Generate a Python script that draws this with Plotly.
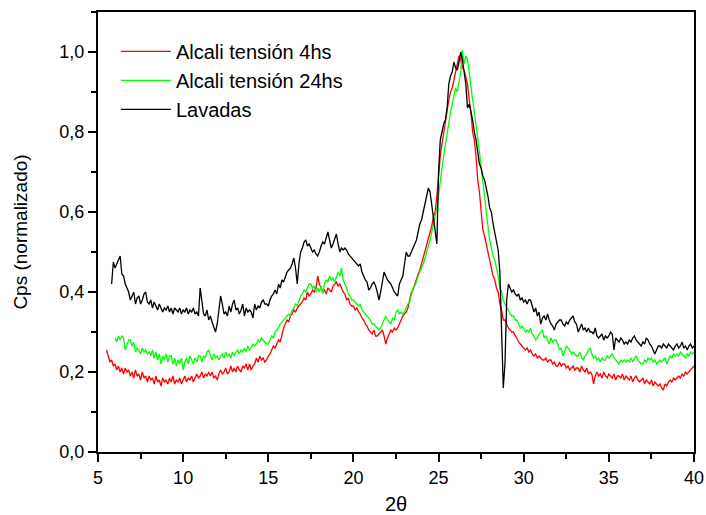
import numpy as np
import plotly.graph_objects as go

# 2-theta grid (0.1 deg steps), one start per series
RED_START, GREEN_START, BLACK_START = 5.5, 6.0, 5.8

red_4hs = [
  0.255, 0.24, 0.225, 0.23, 0.215,
  0.22, 0.205, 0.215, 0.2, 0.21, 0.195, 0.21, 0.2, 0.205, 0.19,
  0.2, 0.185, 0.205, 0.19, 0.195, 0.18, 0.2, 0.185, 0.19, 0.175,
  0.19, 0.18, 0.185, 0.17, 0.19, 0.175, 0.18, 0.165, 0.185, 0.175,
  0.18, 0.17, 0.185, 0.175, 0.19, 0.17, 0.18, 0.175, 0.185, 0.17,
  0.18, 0.19, 0.175, 0.185, 0.18, 0.19, 0.175, 0.185, 0.195, 0.185,
  0.19, 0.2, 0.185, 0.195, 0.19, 0.2, 0.19, 0.2, 0.185, 0.19,
  0.18, 0.195, 0.205, 0.195, 0.2, 0.21, 0.195, 0.2, 0.215, 0.2,
  0.21, 0.2, 0.215, 0.205, 0.2, 0.215, 0.21, 0.22, 0.205, 0.22,
  0.205, 0.215, 0.22, 0.235, 0.225, 0.24, 0.23, 0.235, 0.225, 0.23,
  0.24, 0.245, 0.255, 0.265, 0.26, 0.27, 0.28, 0.275, 0.295, 0.31,
  0.32, 0.33, 0.325, 0.34, 0.345, 0.355, 0.35, 0.36, 0.365, 0.37,
  0.375, 0.385, 0.38, 0.4, 0.39, 0.395, 0.405, 0.4, 0.41, 0.44,
  0.42, 0.41, 0.4, 0.405, 0.395, 0.41, 0.405, 0.4, 0.415, 0.42,
  0.425, 0.415, 0.42, 0.41, 0.4, 0.395, 0.38, 0.385, 0.37, 0.365,
  0.365, 0.355, 0.36, 0.35, 0.345, 0.335, 0.33, 0.32, 0.315, 0.305,
  0.3, 0.295, 0.305, 0.29, 0.29, 0.295, 0.3, 0.305, 0.29, 0.27,
  0.285, 0.295, 0.305, 0.3, 0.31, 0.305, 0.31, 0.32, 0.33, 0.34,
  0.345, 0.35, 0.36, 0.38, 0.4, 0.405, 0.42, 0.43, 0.445, 0.455,
  0.47, 0.49, 0.5, 0.52, 0.535, 0.55, 0.565, 0.59, 0.6, 0.64,
  0.7, 0.74, 0.77, 0.8, 0.83, 0.86, 0.88, 0.9, 0.91, 0.93,
  0.95, 0.97, 0.99, 0.98, 0.96, 0.955, 0.94, 0.92, 0.88, 0.85,
  0.8, 0.78, 0.74, 0.68, 0.65, 0.6, 0.555, 0.54, 0.52, 0.5,
  0.48, 0.46, 0.44, 0.43, 0.41, 0.4, 0.37, 0.355, 0.33, 0.33,
  0.32, 0.31, 0.305, 0.3, 0.3, 0.29, 0.285, 0.275, 0.27, 0.265,
  0.26, 0.255, 0.26, 0.25, 0.255, 0.245, 0.24, 0.245, 0.235, 0.24,
  0.235, 0.23, 0.23, 0.235, 0.225, 0.23, 0.23, 0.22, 0.225, 0.215,
  0.215, 0.225, 0.215, 0.22, 0.22, 0.21, 0.215, 0.205, 0.21, 0.215,
  0.205, 0.21, 0.21, 0.2, 0.215, 0.205, 0.2, 0.21, 0.195, 0.2,
  0.195, 0.17, 0.19, 0.2, 0.19, 0.195, 0.185, 0.2, 0.19, 0.185,
  0.195, 0.19, 0.185, 0.195, 0.18, 0.19, 0.19, 0.185, 0.195, 0.18,
  0.19, 0.185, 0.18, 0.19, 0.175, 0.185, 0.19, 0.18, 0.175, 0.18,
  0.185, 0.17, 0.18, 0.175, 0.17, 0.18, 0.165, 0.175, 0.17, 0.165,
  0.17, 0.16, 0.155, 0.17, 0.165, 0.175, 0.18, 0.175, 0.185, 0.18,
  0.185, 0.19, 0.185, 0.195, 0.19, 0.2, 0.195, 0.2, 0.205, 0.21,
  0.215,
]

green_24hs = [
  0.285, 0.275, 0.29, 0.28, 0.29, 0.285, 0.255, 0.27, 0.28, 0.28,
  0.265, 0.275, 0.25, 0.26, 0.255, 0.245, 0.26, 0.25, 0.255, 0.245,
  0.25, 0.24, 0.255, 0.235, 0.25, 0.23, 0.245, 0.22, 0.24, 0.23,
  0.245, 0.225, 0.24, 0.24, 0.22, 0.235, 0.215, 0.23, 0.22, 0.235,
  0.205, 0.225, 0.235, 0.22, 0.24, 0.23, 0.22, 0.235, 0.225, 0.24,
  0.24, 0.225, 0.24, 0.235, 0.25, 0.255, 0.24, 0.23, 0.245, 0.235,
  0.24, 0.23, 0.24, 0.245, 0.235, 0.25, 0.24, 0.245, 0.235, 0.25,
  0.24, 0.25, 0.255, 0.245, 0.255, 0.25, 0.26, 0.25, 0.265, 0.255,
  0.26, 0.27, 0.265, 0.27, 0.28, 0.275, 0.285, 0.28, 0.275, 0.27,
  0.27, 0.28, 0.29, 0.285, 0.3, 0.305, 0.31, 0.32, 0.325, 0.33,
  0.335, 0.34, 0.345, 0.34, 0.355, 0.36, 0.37, 0.365, 0.38, 0.39,
  0.395, 0.405, 0.4, 0.41, 0.42, 0.42, 0.41, 0.415, 0.4, 0.41,
  0.4, 0.415, 0.395, 0.42, 0.43, 0.425, 0.44, 0.43, 0.435, 0.425,
  0.44, 0.45, 0.44, 0.46, 0.43, 0.42, 0.41, 0.395, 0.39, 0.38,
  0.38, 0.375, 0.37, 0.365, 0.37, 0.355, 0.35, 0.345, 0.34, 0.335,
  0.33, 0.32, 0.32, 0.315, 0.31, 0.305, 0.31, 0.32, 0.33, 0.34,
  0.33, 0.325, 0.32, 0.335, 0.33, 0.35, 0.355, 0.345, 0.35, 0.345,
  0.35, 0.36, 0.37, 0.375, 0.39, 0.41, 0.415, 0.425, 0.44, 0.45,
  0.46, 0.47, 0.485, 0.5, 0.51, 0.53, 0.55, 0.57, 0.59, 0.61,
  0.64, 0.68, 0.71, 0.74, 0.77, 0.8, 0.82, 0.85, 0.87, 0.89,
  0.91, 0.9, 0.93, 0.95, 1.005, 0.97, 0.99, 0.98, 0.95, 0.91,
  0.88, 0.85, 0.82, 0.78, 0.75, 0.71, 0.68, 0.64, 0.6, 0.56,
  0.53, 0.51, 0.49, 0.48, 0.46, 0.44, 0.41, 0.4, 0.38, 0.37,
  0.36, 0.355, 0.345, 0.34, 0.34, 0.33, 0.33, 0.32, 0.31, 0.315,
  0.31, 0.3, 0.305, 0.3, 0.31, 0.295, 0.29, 0.28, 0.285, 0.295,
  0.3, 0.305, 0.285, 0.29, 0.28, 0.27, 0.285, 0.275, 0.28, 0.28,
  0.27, 0.255, 0.26, 0.24, 0.25, 0.265, 0.26, 0.255, 0.245, 0.25,
  0.245, 0.24, 0.24, 0.25, 0.235, 0.23, 0.24, 0.245, 0.255, 0.26,
  0.245, 0.235, 0.24, 0.23, 0.235, 0.225, 0.235, 0.23, 0.23, 0.24,
  0.235, 0.24, 0.245, 0.235, 0.23, 0.225, 0.22, 0.23, 0.225, 0.23,
  0.225, 0.23, 0.225, 0.235, 0.225, 0.235, 0.24, 0.23, 0.225, 0.22,
  0.22, 0.23, 0.225, 0.235, 0.23, 0.235, 0.225, 0.23, 0.22, 0.225,
  0.23, 0.225, 0.23, 0.235, 0.22, 0.23, 0.24, 0.235, 0.245, 0.24,
  0.245, 0.24, 0.25, 0.245, 0.24, 0.235, 0.245, 0.24, 0.25, 0.245,
  0.25,
]

black_lavadas = [
  0.42, 0.475,
  0.46, 0.47, 0.48, 0.49, 0.445, 0.44, 0.42, 0.41, 0.4, 0.38,
  0.39, 0.4, 0.37, 0.385, 0.39, 0.37, 0.38, 0.395, 0.4, 0.375,
  0.37, 0.38, 0.36, 0.375, 0.365, 0.355, 0.37, 0.36, 0.35, 0.36,
  0.355, 0.365, 0.35, 0.36, 0.345, 0.36, 0.355, 0.35, 0.36, 0.345,
  0.355, 0.35, 0.36, 0.345, 0.355, 0.35, 0.36, 0.345, 0.35, 0.34,
  0.41, 0.37, 0.345, 0.34, 0.355, 0.33, 0.34, 0.325, 0.31, 0.3,
  0.32, 0.36, 0.39, 0.37, 0.345, 0.35, 0.34, 0.365, 0.35, 0.37,
  0.38, 0.355, 0.36, 0.345, 0.355, 0.37, 0.34, 0.36, 0.35, 0.355,
  0.35, 0.335, 0.37, 0.355, 0.365, 0.36, 0.375, 0.38, 0.37, 0.37,
  0.365, 0.38, 0.39, 0.395, 0.405, 0.395, 0.42, 0.41, 0.43, 0.425,
  0.44, 0.45, 0.455, 0.46, 0.47, 0.485, 0.46, 0.42, 0.47, 0.5,
  0.51, 0.525, 0.53, 0.515, 0.52, 0.51, 0.5, 0.505, 0.495, 0.49,
  0.5, 0.515, 0.525, 0.52, 0.535, 0.55, 0.53, 0.51, 0.52, 0.535,
  0.545, 0.52, 0.5, 0.51, 0.505, 0.51, 0.505, 0.495, 0.49, 0.485,
  0.48, 0.475, 0.47, 0.465, 0.47, 0.45, 0.44, 0.43, 0.425, 0.405,
  0.41, 0.42, 0.425, 0.415, 0.4, 0.38, 0.4, 0.43, 0.45, 0.44,
  0.43, 0.425, 0.42, 0.41, 0.4, 0.395, 0.39, 0.42, 0.43, 0.44,
  0.47, 0.5, 0.49, 0.49, 0.5, 0.51, 0.52, 0.53, 0.55, 0.57,
  0.58, 0.6, 0.62, 0.64, 0.66, 0.65, 0.62, 0.58, 0.55, 0.52,
  0.7, 0.78, 0.8, 0.82, 0.83, 0.86, 0.92, 0.94, 0.95, 0.975,
  0.96, 0.955, 0.975, 1.0, 0.98, 0.95, 0.92, 0.86, 0.87, 0.85,
  0.83, 0.8, 0.78, 0.75, 0.72, 0.71, 0.69, 0.68, 0.66, 0.64,
  0.61, 0.6, 0.57, 0.55, 0.53, 0.505, 0.45, 0.3, 0.16, 0.22,
  0.38, 0.42, 0.41, 0.4, 0.405, 0.395, 0.39, 0.395, 0.38, 0.385,
  0.375, 0.38, 0.37, 0.38, 0.38, 0.365, 0.35, 0.36, 0.34, 0.35,
  0.32, 0.335, 0.34, 0.33, 0.345, 0.33, 0.32, 0.315, 0.305, 0.32,
  0.325, 0.33, 0.33, 0.32, 0.315, 0.325, 0.32, 0.33, 0.335, 0.34,
  0.325, 0.32, 0.3, 0.31, 0.32, 0.305, 0.31, 0.3, 0.31, 0.3,
  0.3, 0.295, 0.31, 0.29, 0.285, 0.29, 0.295, 0.28, 0.29, 0.285,
  0.29, 0.3, 0.295, 0.255, 0.285, 0.28, 0.275, 0.285, 0.28, 0.27,
  0.275, 0.27, 0.28, 0.275, 0.285, 0.29, 0.28, 0.275, 0.27, 0.265,
  0.275, 0.27, 0.285, 0.28, 0.27, 0.265, 0.255, 0.245, 0.255, 0.265,
  0.265, 0.26, 0.27, 0.265, 0.26, 0.27, 0.265, 0.26, 0.255, 0.265,
  0.27, 0.26, 0.265, 0.275, 0.26, 0.265, 0.255, 0.265, 0.27, 0.26,
  0.265,
]

series = [
  ("Alcali tensión 4hs", RED_START, red_4hs, "#ff0000"),
  ("Alcali tensión 24hs", GREEN_START, green_24hs, "#00ff00"),
  ("Lavadas", BLACK_START, black_lavadas, "#000000"),
]

FONT = "Liberation Sans, Arial"

fig = go.Figure()
for name, start, values, color in series:
  x = np.round(start + 0.1 * np.arange(len(values)), 2)
  fig.add_trace(go.Scatter(
    x=x, y=values, name=name, mode="lines",
    line=dict(color=color, width=1.3),
  ))

axis_common = dict(
  showline=True, linecolor="black", linewidth=2, mirror=True,
  ticks="outside", ticklen=8, tickwidth=1.5, tickcolor="black",
  showgrid=False, zeroline=False, automargin=False,
  tickfont=dict(family=FONT, size=18, color="black"),
)

fig.update_xaxes(
  range=[5, 40], dtick=5, tick0=5,
  minor=dict(dtick=2.5, ticks="outside", ticklen=5, tickcolor="black", tickwidth=1.5),
  title=dict(text="2θ", font=dict(family=FONT, size=20, color="black"), standoff=17),
  **axis_common,
)
fig.update_yaxes(
  range=[0, 1.1], dtick=0.2, tick0=0, tickformat=".1f",
  minor=dict(dtick=0.1, ticks="outside", ticklen=5, tickcolor="black", tickwidth=1.5),
  title=dict(text="Cps (normalizado)", font=dict(family=FONT, size=19, color="black"), standoff=27),
  **axis_common,
)

fig.update_layout(
  width=706, height=515,
  margin=dict(l=98, r=12, t=12, b=63),
  paper_bgcolor="white", plot_bgcolor="white",
  separators=",.",
  showlegend=True,
  legend=dict(
    x=0.03, y=0.955, xanchor="left", yanchor="top",
    bgcolor="rgba(0,0,0,0)", itemwidth=50,
    font=dict(family=FONT, size=20, color="black"),
  ),
)

fig.write_html(
  "out.html",
  config={"displayModeBar": False},
  post_script="document.body.style.margin='0';",
)
